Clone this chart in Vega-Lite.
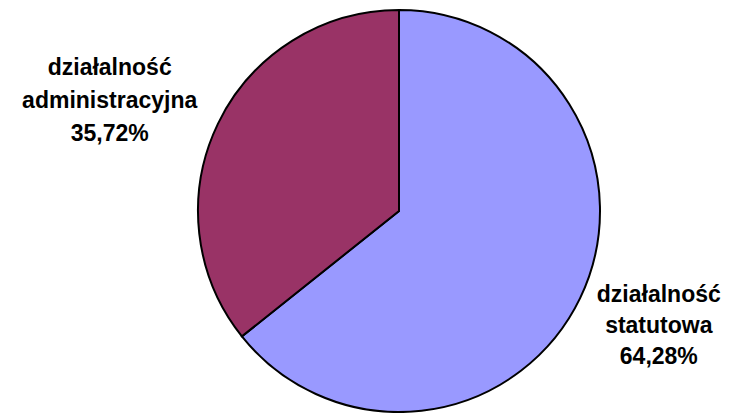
{
  "$schema": "https://vega.github.io/schema/vega-lite/v6.json",
  "width": 662,
  "height": 404,
  "autosize": {"type": "none"},
  "padding": {"left": 68, "top": 9, "right": 1, "bottom": 0},
  "background": "white",
  "config": {"view": {"stroke": null}},
  "data": {
    "values": [
      {"category": "działalność statutowa", "share": 64.28},
      {"category": "działalność administracyjna", "share": 35.72}
    ]
  },
  "transform": [
    {"calculate": "datum.category + ' ' + replace(format(datum.share, '.2f'), '.', ',') + '%'", "as": "label"}
  ],
  "encoding": {
    "theta": {"field": "share", "type": "quantitative", "stack": true},
    "order": {"field": "share", "type": "quantitative", "sort": "descending"}
  },
  "layer": [
    {
      "mark": {"type": "arc", "outerRadius": 201, "stroke": "black", "strokeWidth": 2},
      "encoding": {
        "color": {
          "field": "category",
          "type": "nominal",
          "legend": null,
          "scale": {
            "domain": ["działalność statutowa", "działalność administracyjna"],
            "range": ["#9999FF", "#993366"]
          }
        }
      }
    },
    {
      "mark": {
        "type": "text",
        "radius": 300,
        "dx": -19,
        "dy": -13,
        "lineBreak": " ",
        "lineHeight": 33,
        "font": "Liberation Sans",
        "fontWeight": "bold",
        "fontSize": 23,
        "align": "center",
        "baseline": "middle",
        "color": "black"
      },
      "encoding": {
        "text": {
          "condition": {"test": "datum.category == 'działalność administracyjna'", "field": "label"},
          "value": ""
        }
      }
    },
    {
      "mark": {
        "type": "text",
        "radius": 285,
        "dx": 3,
        "dy": -40,
        "lineBreak": " ",
        "lineHeight": 31,
        "font": "Liberation Sans",
        "fontWeight": "bold",
        "fontSize": 23,
        "align": "center",
        "baseline": "middle",
        "color": "black"
      },
      "encoding": {
        "text": {
          "condition": {"test": "datum.category == 'działalność statutowa'", "field": "label"},
          "value": ""
        }
      }
    }
  ]
}
